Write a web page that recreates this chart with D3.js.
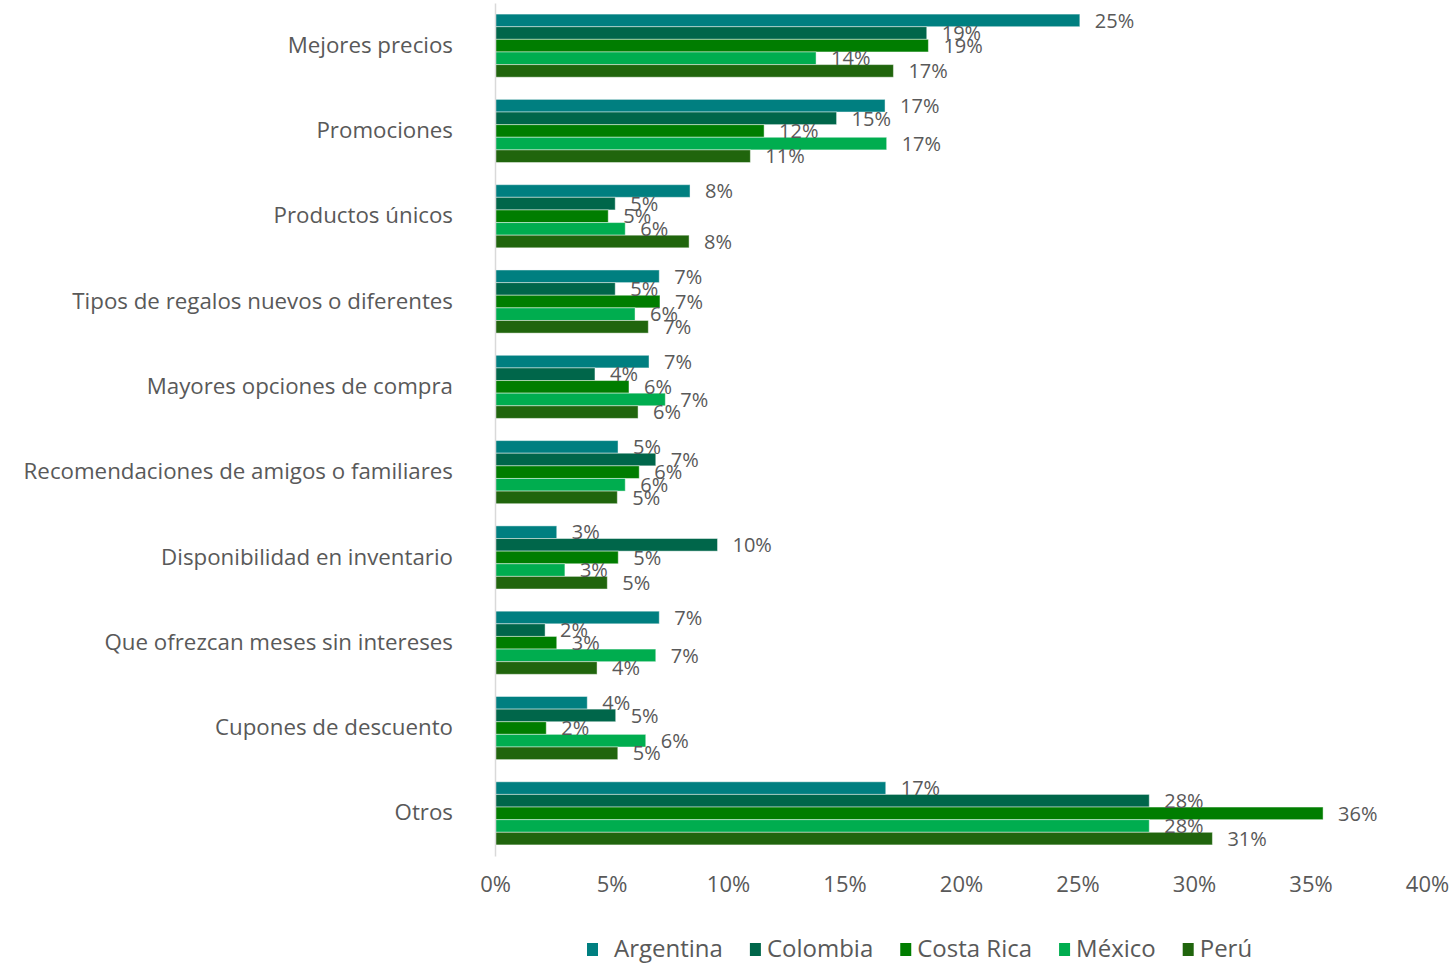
<!DOCTYPE html>
<html>
<head>
<meta charset="utf-8">
<script src="https://cdn.jsdelivr.net/npm/d3@7"></script>
<style>
  body { margin: 0; background: #fff; }
  text { font-family: "Open Sans", sans-serif; fill: #595959; }
</style>
</head>
<body>
<div id="chart"></div>
<script>
// Data
////////////////////////////////////////////////////////////////////
const categories = [
  "Mejores precios",
  "Promociones",
  "Productos únicos",
  "Tipos de regalos nuevos o diferentes",
  "Mayores opciones de compra",
  "Recomendaciones de amigos o familiares",
  "Disponibilidad en inventario",
  "Que ofrezcan meses sin intereses",
  "Cupones de descuento",
  "Otros",
];
const countries = ["Argentina", "Colombia", "Costa Rica", "México", "Perú"];
const colors = ["#007f80", "#00664a", "#007d00", "#00ad4f", "#20650d"];

// values in %, one array per country, same order as categories
const argentina = [25.1, 16.74, 8.37, 7.05, 6.61, 5.28, 2.65, 7.05, 3.96, 16.77];
const colombia = [18.53, 14.66, 5.16, 5.16, 4.29, 6.9, 9.55, 2.15, 5.18, 28.08];
const costaRica = [18.6, 11.55, 4.86, 7.08, 5.75, 6.19, 5.29, 2.65, 2.2, 35.54];
const mexico = [13.78, 16.81, 5.59, 6.01, 7.31, 5.59, 3.0, 6.9, 6.47, 28.08];
const peru = [17.1, 10.96, 8.33, 6.58, 6.14, 5.25, 4.82, 4.38, 5.27, 30.79];
const seriesValues = [argentina, colombia, costaRica, mexico, peru];

const xTicks = [0, 5, 10, 15, 20, 25, 30, 35, 40];

// Dimensions
////////////////////////////////////////////////////////////////////
const dims = {
  width: 1450,
  height: 963,
  margin: { top: 3, left: 495, right: 23, bottom: 107 },
};
dims.ctrWidth = dims.width - dims.margin.left - dims.margin.right;
dims.ctrHeight = dims.height - dims.margin.top - dims.margin.bottom;

const svg = d3
  .select("#chart")
  .append("svg")
  .attr("width", dims.width)
  .attr("height", dims.height);

const ctr = svg
  .append("g")
  .attr("transform", `translate(${dims.margin.left}, ${dims.margin.top})`);

// Scales
////////////////////////////////////////////////////////////////////
const xScale = d3.scaleLinear().domain([0, 40]).range([0, dims.ctrWidth]);

const yScale = d3
  .scaleBand()
  .domain(categories)
  .range([0, dims.ctrHeight])
  .paddingInner(0.26)
  .paddingOuter(0.13);

const subScale = d3
  .scaleBand()
  .domain(countries)
  .range([0, yScale.bandwidth()]);

// Rows: one group per category
const rows = categories.map((cat, i) => ({
  cat,
  items: countries.map((c, j) => ({ country: c, color: colors[j], value: seriesValues[j][i] })),
}));

const groups = ctr
  .selectAll("g.row")
  .data(rows)
  .join("g")
  .attr("class", "row")
  .attr("transform", (d) => `translate(0, ${yScale(d.cat)})`);

groups
  .selectAll("rect")
  .data((d) => d.items)
  .join("rect")
  .attr("x", 0)
  .attr("y", (d) => subScale(d.country))
  .attr("width", (d) => xScale(d.value))
  .attr("height", subScale.bandwidth())
  .attr("fill", (d) => d.color)
  .attr("stroke", "rgba(255,255,255,0.45)")
  .attr("stroke-width", 1);

// Data labels
groups
  .selectAll("text.lbl")
  .data((d) => d.items)
  .join("text")
  .attr("class", "lbl")
  .attr("x", (d) => xScale(d.value) + 15)
  .attr("y", (d) => subScale(d.country) + subScale.bandwidth() / 2)
  .attr("dy", "0.36em")
  .style("font-size", "20px")
  .text((d) => d3.format(".0f")(d.value) + "%");

// Axes
////////////////////////////////////////////////////////////////////
const xAxis = d3
  .axisBottom(xScale)
  .tickValues(xTicks)
  .tickSize(0)
  .tickPadding(20)
  .tickFormat((d) => d + "%");

const xAxisGroup = ctr
  .append("g")
  .attr("transform", `translate(0, ${dims.ctrHeight})`)
  .call(xAxis);
xAxisGroup.select(".domain").remove();
xAxisGroup.selectAll("text").style("font-size", "22px").attr("fill", "#595959");

const yAxis = d3.axisLeft(yScale).tickSize(0).tickPadding(42);
const yAxisGroup = ctr.append("g").call(yAxis);
yAxisGroup.select(".domain").attr("stroke", "#d9d9d9").attr("stroke-width", 1.5);
yAxisGroup.selectAll("text").style("font-size", "22.3px").attr("fill", "#595959");

// Legend
////////////////////////////////////////////////////////////////////
const legend = svg.append("g").attr("transform", "translate(587, 948)");
let lx = 0;
countries.forEach((c, i) => {
  const item = legend.append("g").attr("transform", `translate(${lx}, 0)`);
  item
    .append("rect")
    .attr("x", 0)
    .attr("y", -5)
    .attr("width", 11)
    .attr("height", 13)
    .attr("fill", colors[i]);
  const textX = i === 0 ? 27 : 17;
  const t = item
    .append("text")
    .attr("x", textX)
    .attr("y", 0)
    .attr("dy", "0.36em")
    .style("font-size", "24px")
    .text(c);
  lx += textX + t.node().getComputedTextLength() + 27;
});
</script>
</body>
</html>
